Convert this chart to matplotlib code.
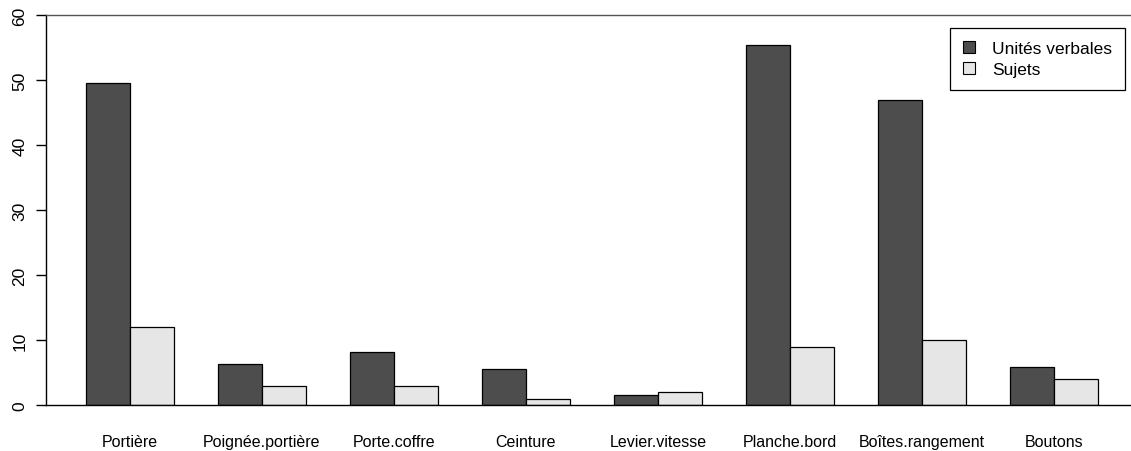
import matplotlib.pyplot as plt
from matplotlib.patches import Patch
import numpy as np

plt.rcParams['font.family'] = ['Liberation Sans', 'DejaVu Sans']

categories = ['Portière', 'Poignée.portière', 'Porte.coffre', 'Ceinture',
              'Levier.vitesse', 'Planche.bord', 'Boîtes.rangement', 'Boutons']
unites_verbales = [49.6, 6.3, 8.1, 5.6, 1.5, 55.4, 46.9, 5.8]
sujets = [12, 3, 3, 1, 2, 9, 10, 4]
series_names = ['Unités verbales', 'Sujets']

dark = '#4d4d4d'
light = '#e6e6e6'

fig = plt.figure(figsize=(11.31, 4.52), dpi=100)
ax = fig.add_axes([45.5 / 1131, 46 / 452, 1 - 45.5 / 1131, 390 / 452])

# R style barplot, beside=TRUE, space=c(0,1)
n = len(categories)
left_dark = 1 + 3 * np.arange(n)
ax.bar(left_dark, unites_verbales, width=1, align='edge', color=dark,
       edgecolor='black', linewidth=0.9)
ax.bar(left_dark + 1, sujets, width=1, align='edge', color=light,
       edgecolor='black', linewidth=0.9)

ax.set_xlim(0.08, 0.08 + (1131 - 45.5) / 44)
ax.set_ylim(0, 60)

ax.spines['right'].set_visible(False)
ax.spines['top'].set_color('#555555')
for s in ['left', 'bottom', 'top']:
    ax.spines[s].set_linewidth(1)

ax.set_yticks(range(0, 61, 10))
ax.set_yticklabels([str(v) for v in range(0, 61, 10)], rotation=90, va='center', fontsize=12.5)
ax.tick_params(axis='y', length=7, width=1, pad=6)

ax.set_xticks(left_dark + 1)
ax.set_xticklabels(categories, fontsize=11.5)
ax.tick_params(axis='x', length=0, pad=21)

handles = [Patch(facecolor=dark, edgecolor='black', linewidth=0.8),
           Patch(facecolor=light, edgecolor='black', linewidth=0.8)]
leg = ax.legend(handles, series_names, loc='upper right',
                bbox_to_anchor=(0.9945, 0.967), borderaxespad=0,
                fontsize=12.5, frameon=True, fancybox=False, framealpha=1,
                handlelength=0.65, handleheight=0.65, handletextpad=1.0,
                labelspacing=0.35, borderpad=0.75)
leg.get_frame().set_edgecolor('black')
leg.get_frame().set_linewidth(0.9)

fig.savefig('out.png', dpi=100)
